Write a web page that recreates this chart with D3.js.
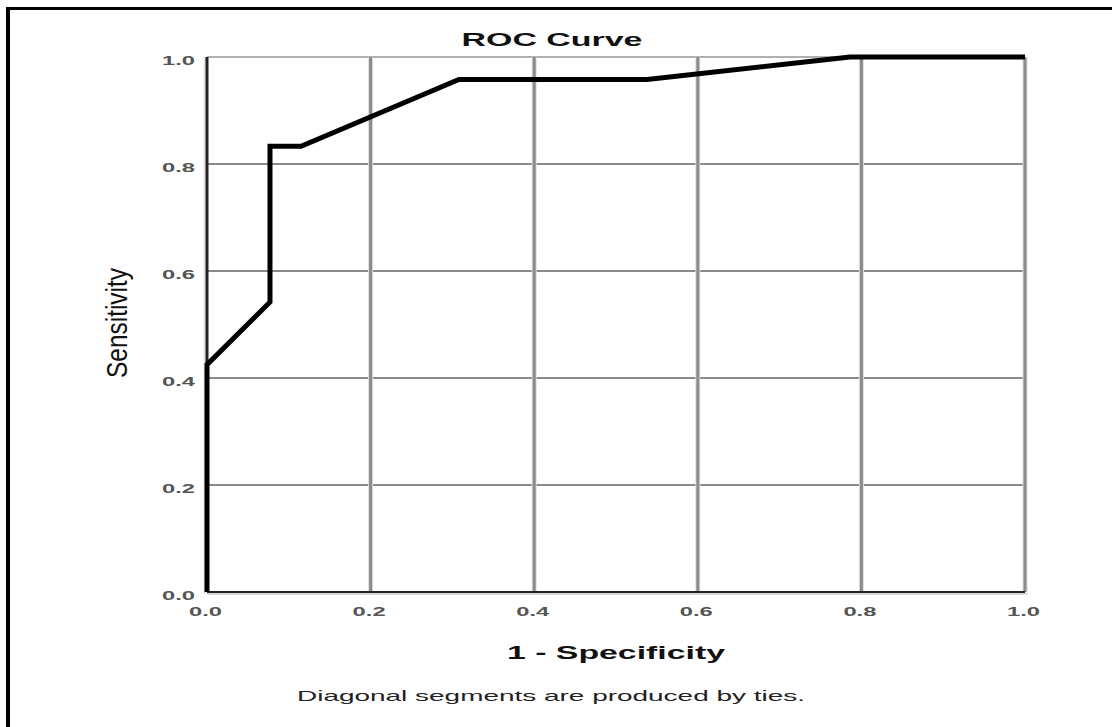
<!DOCTYPE html>
<html>
<head>
<meta charset="utf-8">
<script src="https://cdn.jsdelivr.net/npm/d3@7"></script>
<style>
  html, body { margin: 0; padding: 0; background: #fff; }
  svg { display: block; }
  text { font-family: "Liberation Sans", Arial, sans-serif; }
</style>
</head>
<body>
<script>
// ---- data ----
const fpr = [0, 0, 0.077, 0.077, 0.115, 0.308, 0.538, 0.786, 1.0];
const tpr = [0, 0.425, 0.542, 0.833, 0.833, 0.958, 0.958, 1.0, 1.0];
const xTicks = [0, 0.2, 0.4, 0.6, 0.8, 1.0];
const yTicks = [0, 0.2, 0.4, 0.6, 0.8, 1.0];
const chartTitle = "ROC Curve";
const xTitle = "1 - Specificity";
const yTitle = "Sensitivity";
const footnote = "Diagonal segments are produced by ties.";

const W = 1112, H = 727;
const svg = d3.select("body").append("svg").attr("width", W).attr("height", H);

const pL = 207, pR = 1025, pT = 57, pB = 592;
const x = d3.scaleLinear().domain([0, 1]).range([pL, pR]);
const y = d3.scaleLinear().domain([0, 1]).range([pB, pT]);
const fmt = d3.format(".1f");

// outer frame (top and left only)
svg.append("line").attr("x1", 7).attr("x2", W).attr("y1", 8.5).attr("y2", 8.5)
  .attr("stroke", "#000").attr("stroke-width", 3);
svg.append("line").attr("x1", 8).attr("x2", 8).attr("y1", 7).attr("y2", H)
  .attr("stroke", "#000").attr("stroke-width", 4);

// horizontal gridlines
const g = svg.append("g");
g.selectAll("line.hg").data(yTicks.filter(d => d > 0)).join("line")
  .attr("class", "hg")
  .attr("x1", pL).attr("x2", pR)
  .attr("y1", d => y(d)).attr("y2", d => y(d))
  .attr("stroke", d => d === 1 ? "#b0b0b0" : "#8a8a8a")
  .attr("stroke-width", 2);

// vertical gridlines (halo + core)
const vt = xTicks.filter(d => d > 0);
g.selectAll("line.vgh").data(vt).join("line")
  .attr("class", "vgh")
  .attr("x1", d => x(d)).attr("x2", d => x(d))
  .attr("y1", pT).attr("y2", pB)
  .attr("stroke", "#dcdcdc").attr("stroke-width", 5);
g.selectAll("line.vg").data(vt).join("line")
  .attr("class", "vg")
  .attr("x1", d => x(d)).attr("x2", d => x(d))
  .attr("y1", pT).attr("y2", pB)
  .attr("stroke", "#8c8c8c").attr("stroke-width", 3);

// axes lines
g.append("line").attr("x1", pL - 2).attr("x2", pL - 2).attr("y1", pT).attr("y2", pB + 2)
  .attr("stroke", "#e6e6e6").attr("stroke-width", 3);
g.append("line").attr("x1", pL).attr("x2", pL).attr("y1", pT).attr("y2", pB)
  .attr("stroke", "#222").attr("stroke-width", 3);
g.append("line").attr("x1", pL).attr("x2", pR + 2).attr("y1", pB + 2).attr("y2", pB + 2)
  .attr("stroke", "#d8d8d8").attr("stroke-width", 2);
g.append("line").attr("x1", pL).attr("x2", pR).attr("y1", pB).attr("y2", pB)
  .attr("stroke", "#222").attr("stroke-width", 2);

// ROC curve
const pts = fpr.map((d, i) => [d, tpr[i]]);
const line = d3.line().x(d => x(d[0])).y(d => y(d[1]));
svg.append("path").datum(pts)
  .attr("d", line)
  .attr("fill", "none")
  .attr("stroke", "#000")
  .attr("stroke-width", 5)
  .attr("stroke-linejoin", "miter");

// tick labels via d3 axes
const xAxis = svg.append("g").attr("transform", `translate(-2,${pB})`)
  .call(d3.axisBottom(x).tickValues(xTicks).tickFormat(fmt).tickSize(0));
xAxis.select(".domain").remove();
xAxis.selectAll("text")
  .attr("y", 24).attr("dy", null)
  .attr("font-size", 13).attr("font-weight", "bold").attr("fill", "#555")
  .attr("textLength", 33).attr("lengthAdjust", "spacingAndGlyphs")
  .attr("font-family", "Liberation Sans, Arial, sans-serif");

const yAxis = svg.append("g").attr("transform", `translate(${195},0)`)
  .call(d3.axisLeft(y).tickValues(yTicks).tickFormat(fmt).tickSize(0).tickPadding(0));
yAxis.select(".domain").remove();
yAxis.selectAll("text")
  .attr("x", 0).attr("dy", null).attr("y", 7)
  .attr("font-size", 13).attr("font-weight", "bold").attr("fill", "#555")
  .attr("textLength", 33).attr("lengthAdjust", "spacingAndGlyphs")
  .attr("font-family", "Liberation Sans, Arial, sans-serif");

// titles
svg.append("text").text(chartTitle)
  .attr("x", 552).attr("y", 46).attr("text-anchor", "middle")
  .attr("font-size", 19).attr("font-weight", "bold").attr("fill", "#111")
  .attr("textLength", 181).attr("lengthAdjust", "spacingAndGlyphs");

svg.append("text").text(xTitle)
  .attr("x", 616).attr("y", 659).attr("text-anchor", "middle")
  .attr("font-size", 19).attr("font-weight", "bold").attr("fill", "#111")
  .attr("textLength", 218).attr("lengthAdjust", "spacingAndGlyphs");

svg.append("text").text(yTitle)
  .attr("transform", "translate(127,323) rotate(-90)")
  .attr("text-anchor", "middle")
  .attr("font-size", 30).attr("fill", "#111")
  .attr("textLength", 110).attr("lengthAdjust", "spacingAndGlyphs");

svg.append("text").text(footnote)
  .attr("x", 551).attr("y", 701).attr("text-anchor", "middle")
  .attr("font-size", 15).attr("fill", "#222")
  .attr("textLength", 508).attr("lengthAdjust", "spacingAndGlyphs");
</script>
</body>
</html>
